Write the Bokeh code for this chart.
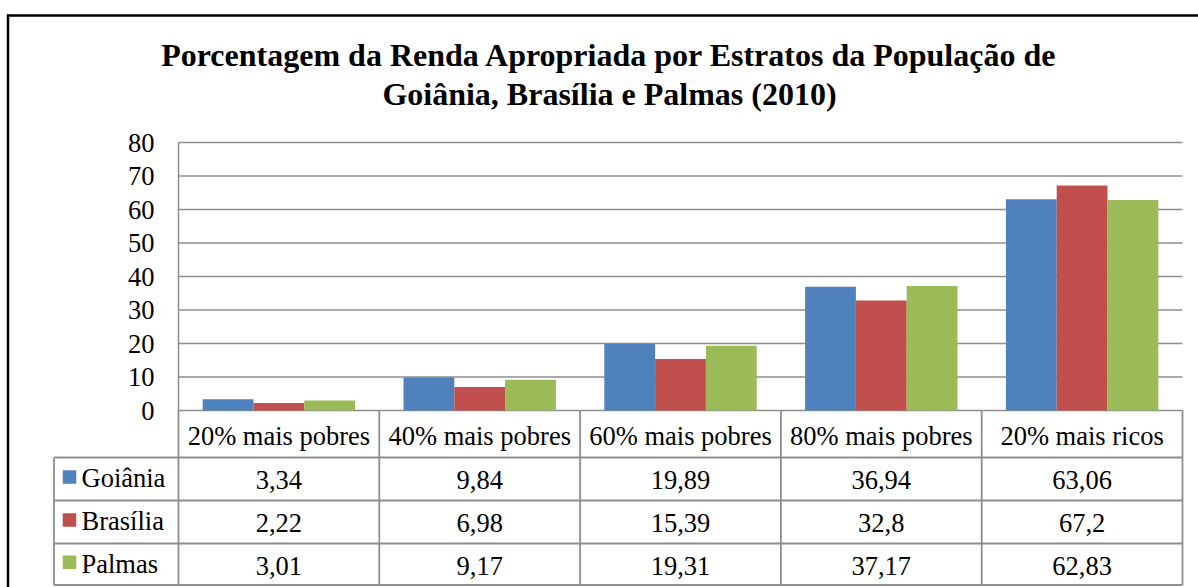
from bokeh.plotting import figure
from bokeh.models import Range1d, FixedTicker, ColumnDataSource
from bokeh.transform import dodge
from bokeh.core.properties import value
from bokeh.embed import file_html
from bokeh.resources import INLINE

# ---------------- data ----------------
categories = ["20% mais pobres", "40% mais pobres", "60% mais pobres", "80% mais pobres", "20% mais ricos"]
series_names = ["Goiânia", "Brasília", "Palmas"]
goiania = [3.34, 9.84, 19.89, 36.94, 63.06]
brasilia = [2.22, 6.98, 15.39, 32.8, 67.2]
palmas = [3.01, 9.17, 19.31, 37.17, 62.83]
y_ticks = [0, 10, 20, 30, 40, 50, 60, 70, 80]
title_lines = ["Porcentagem da Renda Apropriada por Estratos da População de",
               "Goiânia, Brasília e Palmas (2010)"]

# ---------------- style / layout (picture pixels) ----------------
colors = ["#4F81BD", "#C0504D", "#9BBB59"]
GRAY = "#8e8e8e"
FONT = "Liberation Serif"
TXT = "26.5px"
W, H = 1198, 587
PAGE_L, PAGE_T = 0, 0
FRAME_L, FRAME_T, FRAME_B = 178, 142, 410      # plot area
CAT_W = 200.8                                  # px per category
Y_MAX = 80
PX_PER_Y = (FRAME_B - FRAME_T) / Y_MAX

series = [goiania, brasilia, palmas]
n = len(categories)

def ux(px):
    return (px - FRAME_L) / CAT_W

def vy(py):
    return (FRAME_B - py) / PX_PER_Y

p = figure(width=W, height=H, output_backend="svg", toolbar_location=None,
           x_range=Range1d(ux(PAGE_L), ux(PAGE_L + W)),
           y_range=Range1d(vy(PAGE_T + H), vy(PAGE_T)),
           min_border_left=0, min_border_right=0, min_border_top=0, min_border_bottom=0)
p.extra_x_ranges = {"px": Range1d(PAGE_L, PAGE_L + W)}
p.extra_y_ranges = {"px": Range1d(PAGE_T + H, PAGE_T)}
p.outline_line_color = None
p.grid.grid_line_color = None
p.xaxis.visible = False

# y axis inside the frame at the plot-area edge
p.yaxis.fixed_location = 0
p.yaxis.bounds = (0, Y_MAX)
p.yaxis.ticker = FixedTicker(ticks=y_ticks)
p.yaxis.axis_line_color = GRAY
p.yaxis.axis_line_width = 1.5
p.yaxis.major_tick_line_color = None
p.yaxis.minor_tick_line_color = None
p.yaxis.major_tick_out = 0
p.yaxis.major_tick_in = 0
p.yaxis.major_label_standoff = 24
p.yaxis.major_label_text_font = FONT
p.yaxis.major_label_text_font_size = TXT
p.yaxis.major_label_text_color = "black"

# gridlines across the plot area
p.segment(x0=[0] * len(y_ticks), x1=[n] * len(y_ticks), y0=y_ticks, y1=y_ticks,
          line_color=GRAY, line_width=1.4)

# bars
xc = [i + 0.5 for i in range(n)]
src = ColumnDataSource(dict(xc=xc, g=goiania, b=brasilia, p=palmas))
bw = 0.253
for key, off, col in zip(["g", "b", "p"], [-bw, 0, bw], colors):
    p.vbar(x=dodge("xc", off), top=key, width=bw, source=src, fill_color=col, line_color=None)

# title
for line, mid in zip(title_lines, [54, 93]):
    p.text(x=[609], y=[mid], text=[line], x_range_name="px", y_range_name="px",
           text_align="center", text_baseline="middle", text_font=value(FONT),
           text_font_size="32px", text_font_style="bold", text_color="black")

# outer chart border (top + left visible in the crop)
p.segment(x0=[6.5], y0=[15], x1=[PAGE_L + W], y1=[15], x_range_name="px", y_range_name="px",
          line_color="black", line_width=2.5)
p.segment(x0=[7.5], y0=[14], x1=[7.5], y1=[PAGE_T + H], x_range_name="px", y_range_name="px",
          line_color="black", line_width=2.5)

# data table
row_edges = [FRAME_B, 457, 500, 543, 584.5]
row_mid = [435, 479, 522, 565]
LEG_L = 53.5
right_px = FRAME_L + n * CAT_W
vx = list(range(n + 1))
p.segment(x0=vx, x1=vx, y0=[row_edges[0]] * (n + 1), y1=[row_edges[-1]] * (n + 1),
          y_range_name="px", line_color=GRAY, line_width=1.8)
p.segment(x0=[LEG_L], x1=[LEG_L], y0=[row_edges[1]], y1=[row_edges[-1]],
          x_range_name="px", y_range_name="px", line_color=GRAY, line_width=1.8)
hy = row_edges[1:]
p.segment(x0=[LEG_L] * len(hy), x1=[right_px] * len(hy), y0=hy, y1=hy,
          x_range_name="px", y_range_name="px", line_color=GRAY, line_width=1.8)

p.text(x=xc, y=[row_mid[0]] * n, text=categories, y_range_name="px",
       text_align="center", text_baseline="middle", text_font=value(FONT),
       text_font_size=TXT, text_color="black")

def fmt(v):
    return ("%g" % v).replace(".", ",")

for r, (name, vals, col) in enumerate(zip(series_names, series, colors)):
    mid = row_mid[r + 1]
    cell_mid = (row_edges[r + 1] + row_edges[r + 2]) / 2
    p.text(x=xc, y=[mid] * n, text=[fmt(v) for v in vals], y_range_name="px",
           text_align="center", text_baseline="middle", text_font=value(FONT),
           text_font_size=TXT, text_color="black")
    p.scatter(x=[69], y=[cell_mid - 2], x_range_name="px", y_range_name="px",
              marker="square", size=13.5, fill_color=col, line_color=None)
    p.text(x=[81], y=[mid - 2], text=[name], x_range_name="px", y_range_name="px",
           text_align="left", text_baseline="middle", text_font=value(FONT),
           text_font_size=TXT, text_color="black")

open("out.html", "w").write(file_html(p, INLINE))
